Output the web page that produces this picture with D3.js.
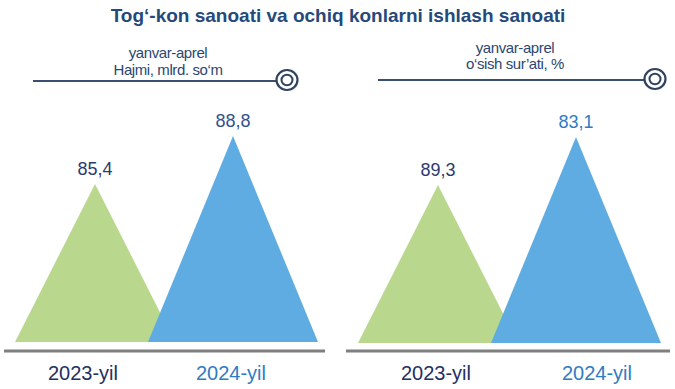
<!DOCTYPE html>
<html>
<head>
<meta charset="utf-8">
<script src="https://cdn.jsdelivr.net/npm/d3@7"></script>
<style>
  html, body { margin: 0; padding: 0; background: #ffffff; }
  svg { display: block; font-family: "Liberation Sans", Arial, sans-serif; }
</style>
</head>
<body>
<svg id="chart" width="675" height="389"></svg>
<script>
// ---- data ----
const title = "Tog‘-kon sanoati va ochiq konlarni ishlash sanoati";
const years = ["2023-yil", "2024-yil"];
const volumeValues = [85.4, 88.8];   // Hajmi, mlrd. so‘m
const growthValues = [89.3, 83.1];   // o‘sish sur’ati, %
const panelPeriod = ["yanvar-aprel", "yanvar-aprel"];
const panelUnits = ["Hajmi, mlrd. so‘m", "o‘sish sur’ati, %"];

const fmt = v => d3.format(".1f")(v).replace(".", ",");

const svg = d3.select("#chart");

const colors = d3.scaleOrdinal().domain(years).range(["#b9d88e", "#5eace2"]);
const valueColors = d3.scaleOrdinal().domain(years).range(["#2c3b6c", "#34518c"]);
const yearColors = d3.scaleOrdinal().domain(years).range(["#222f63", "#2f7cc4"]);
// decorative infographic: triangle size by year (not value-proportional in the original)
const heightScale = d3.scaleOrdinal().domain(years).range([158, 206]);
const halfWidth = d3.scaleOrdinal().domain(years).range([80, 85]);

svg.append("text")
  .attr("x", 338).attr("y", 22)
  .attr("text-anchor", "middle")
  .attr("font-size", 19).attr("font-weight", "bold")
  .attr("fill", "#24497a")
  .text(title);

const panels = [
  { values: volumeValues, dx: 0, base: 342, axis: [4, 325], labelX: [83, 231],
    line: [33, 276], circle: [287, 80], textX: 168, textY: [58, 75], period: panelPeriod[0], unit: panelUnits[0], valueCols: ["#2c3b6c", "#34518c"] },
  { values: growthValues, dx: 343, base: 343, axis: [346, 670], labelX: [436, 597],
    line: [378, 644], circle: [655, 79], textX: 515, textY: [53, 69], period: panelPeriod[1], unit: panelUnits[1], valueCols: ["#2c3b6c", "#2e7cc4"] }
];

panels.forEach(p => {
  const x = d3.scalePoint().domain(years).range([95 + p.dx, 233 + p.dx]);
  const lx = d3.scalePoint().domain(years).range(p.labelX);
  const vcol = d3.scaleOrdinal().domain(years).range(p.valueCols);
  const data = years.map((y, i) => ({ year: y, value: p.values[i] }));

  // header
  const g = svg.append("g");
  g.append("line")
    .attr("x1", p.line[0]).attr("x2", p.line[1])
    .attr("y1", p.circle[1] + 1).attr("y2", p.circle[1] + 1)
    .attr("stroke", "#3a4f6e").attr("stroke-width", 2);
  g.append("ellipse")
    .attr("cx", p.circle[0]).attr("cy", p.circle[1])
    .attr("rx", 10.5).attr("ry", 10)
    .attr("fill", "#fff").attr("stroke", "#2f4360").attr("stroke-width", 2.2);
  g.append("ellipse")
    .attr("cx", p.circle[0]).attr("cy", p.circle[1])
    .attr("rx", 5.5).attr("ry", 5.2)
    .attr("fill", "none").attr("stroke", "#2f4360").attr("stroke-width", 2);
  g.append("text")
    .attr("x", p.textX).attr("y", p.textY[0])
    .attr("text-anchor", "middle").attr("font-size", 15)
    .attr("letter-spacing", -0.4)
    .attr("fill", "#2b4671").text(p.period);
  g.append("text")
    .attr("x", p.textX).attr("y", p.textY[1])
    .attr("text-anchor", "middle").attr("font-size", 15)
    .attr("letter-spacing", -0.4)
    .attr("fill", "#2b4671").text(p.unit);

  // triangles
  svg.append("g").selectAll("path")
    .data(data)
    .join("path")
    .attr("d", d => {
      const cx = x(d.year), h = heightScale(d.year), w = halfWidth(d.year);
      return d3.line()([[cx - w, p.base], [cx, p.base - h], [cx + w, p.base]]) + "Z";
    })
    .attr("fill", d => colors(d.year));

  // value labels
  svg.append("g").selectAll("text")
    .data(data)
    .join("text")
    .attr("x", d => x(d.year))
    .attr("y", d => p.base - heightScale(d.year) - 9)
    .attr("text-anchor", "middle")
    .attr("font-size", 18)
    .attr("fill", d => vcol(d.year))
    .text(d => fmt(d.value));

  // baseline axis
  svg.append("line")
    .attr("x1", p.axis[0]).attr("x2", p.axis[1])
    .attr("y1", 351).attr("y2", 351)
    .attr("stroke", "#7f7f7f").attr("stroke-width", 3);

  // year labels
  svg.append("g").selectAll("text")
    .data(years)
    .join("text")
    .attr("x", d => lx(d))
    .attr("y", 380)
    .attr("text-anchor", "middle")
    .attr("font-size", 20)
    .attr("fill", d => yearColors(d))
    .text(d => d);
});
</script>
</body>
</html>
